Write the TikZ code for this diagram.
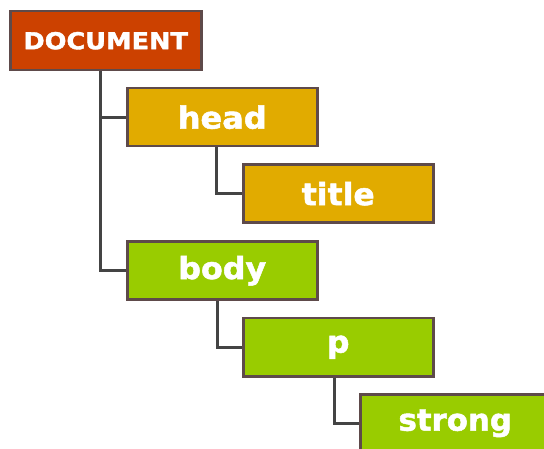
\documentclass[tikz,border=0pt]{standalone}
\usepackage{fontspec}
\setmainfont{DejaVu Sans}[BoldFeatures={FakeBold=1.6}]
\definecolor{docred}{HTML}{CC4100}
\definecolor{headgold}{HTML}{E1AB00}
\definecolor{bodygreen}{HTML}{99CC00}
\definecolor{edgebrown}{HTML}{5E4A4A}
\definecolor{linegray}{HTML}{444444}
\begin{document}
\begin{tikzpicture}[x=1pt,y=-1pt,
  box/.style={draw=edgebrown, line width=2.5pt, minimum width=190pt, minimum height=58pt,
    inner sep=0pt, anchor=north west, text=white, font=\bfseries\fontsize{30.5}{30.5}\selectfont},
  docbox/.style={box, fill=docred, minimum width=191pt, minimum height=59pt, font=\bfseries\fontsize{23.3}{23.3}\selectfont},
  headbox/.style={box, fill=headgold},
  bodybox/.style={box, fill=bodygreen},
  conn/.style={draw=linegray, line width=2.8pt}]
\useasboundingbox (0,0) rectangle (544,449);
\clip (0,0) rectangle (544,449);
\node[docbox] (doc) at (9,10) {\scalebox{1.1}[1]{DOCUMENT}};
\node[headbox] (head) at (126,87) {\scalebox{1.05}[1]{head}};
\node[headbox] (title) at (242,163.5) {\scalebox{1.03}[1]{title}};
\node[bodybox] (body) at (126,240.5) {\scalebox{1.04}[1]{body}};
\node[bodybox] (p) at (242,317) {\scalebox{1.03}[1]{p}};
\node[bodybox] (strong) at (359,393) {\scalebox{1.01}[1]{strong}};
\draw[conn] ([xshift=-5pt]doc.south) |- (body.west);
\draw[conn] ([xshift=-5pt]doc.south) |- (head.west);
\draw[conn] ([xshift=-5.5pt]head.south) |- (title.west);
\draw[conn] ([xshift=-4.5pt]body.south) |- (p.west);
\draw[conn] ([xshift=-4pt]p.south) |- (strong.west);
\end{tikzpicture}
\end{document}
